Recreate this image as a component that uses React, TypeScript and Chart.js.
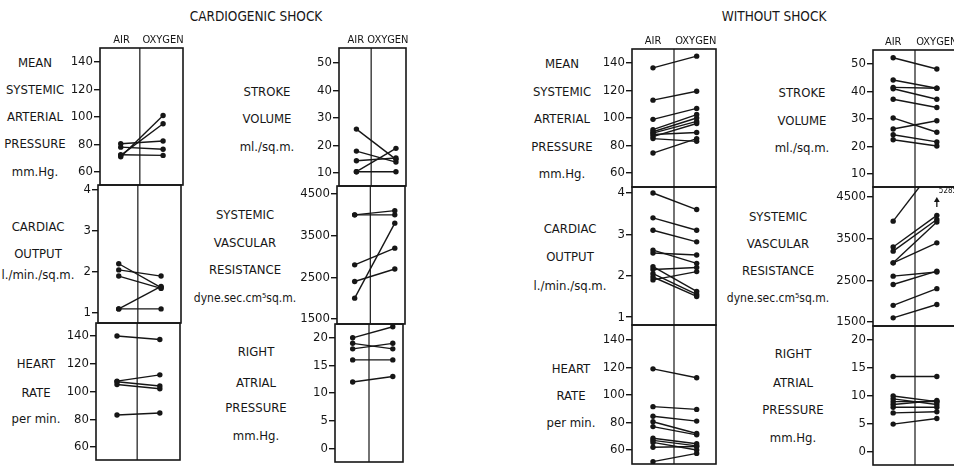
import React, { useEffect, useRef } from "react";
import { Chart, registerables } from "chart.js";
Chart.register(...registerables);

const FONT = "'Liberation Sans Narrow', 'DejaVu Sans Condensed', 'Arial Narrow', sans-serif";
const INK = "#161616";

// ---------- Tick values ----------
const TICKS_MAP = [60, 80, 100, 120, 140];
const TICKS_CO = [1, 2, 3, 4];
const TICKS_HR = [60, 80, 100, 120, 140];
const TICKS_SV = [10, 20, 30, 40, 50];
const TICKS_SVR = [1500, 2500, 3500, 4500];
const TICKS_RAP = [0, 5, 10, 15, 20];

const GROUP_LABELS = ["AIR", "OXYGEN"];

// ---------- Cardiogenic shock ----------
const CS_MAP_AIR = [80.5, 78, 72.5, 71, 72];
const CS_MAP_OXY = [82.5, 76.5, 72, 101, 95];
const CS_CO_AIR = [2.2, 2.05, 1.9, 1.1, 1.1];
const CS_CO_OXY = [1.62, 1.9, 1.6, 1.65, 1.1];
const CS_HR_AIR = [140, 107.5, 107, 105, 83];
const CS_HR_OXY = [137.5, 112, 104, 102, 84.5];
const CS_SV_AIR = [26, 18, 14.5, 10.5, 10.5];
const CS_SV_OXY = [15, 14, 15.5, 19, 10.5];
const CS_SVR_AIR = [4000, 4000, 2800, 2400, 2000];
const CS_SVR_OXY = [4100, 4000, 3200, 2700, 3800];
const CS_RAP_AIR = [20, 19, 18, 16, 12];
const CS_RAP_OXY = [22, 18, 19, 16, 13];

// ---------- Without shock ----------
const NS_MAP_AIR = [136.5, 113, 99, 91.5, 90, 89, 88, 86.5, 85, 74.5];
const NS_MAP_OXY = [145, 119.5, 107, 102.5, 100, 97.5, 89.5, 96, 83, 85];
const NS_CO_AIR = [4.0, 3.4, 3.1, 2.62, 2.55, 2.22, 2.15, 2.05, 1.97, 1.9];
const NS_CO_OXY = [3.6, 3.1, 2.82, 2.3, 2.5, 1.62, 2.2, 1.55, 1.5, 2.1];
const NS_HR_AIR = [119, 91.5, 84.5, 80.5, 77, 68.5, 67, 65.5, 62, 51.5];
const NS_HR_OXY = [112.5, 89.5, 81, 72, 71, 64.5, 63, 60, 62.5, 57.5];
const NS_SV_AIR = [52.3, 44.2, 41.5, 41, 37.2, 30.4, 26.4, 24.3, 22.5];
const NS_SV_OXY = [48.2, 41.2, 41.2, 37.2, 34.2, 25.2, 29.4, 21.7, 20.2];
const NS_SVR_AIR = [3920, 3300, 3200, 2920, 2920, 2600, 2400, 1900, 1600];
const NS_SVR_OXY = [5285, 4060, 3960, 3900, 3400, 2700, 2720, 2300, 1920];
const NS_SVR_OFFSCALE_LABEL = "5285";
const NS_RAP_AIR = [13.5, 10, 9.5, 9, 8.5, 8, 7, 5];
const NS_RAP_OXY = [13.5, 9, 8.5, 9, 9.2, 8, 7.2, 6];

// ---------- Layout ----------
const AXW = 44;
const PT = 20;
const PB = 12;
const PR = 4;

type PanelCfg = {
  box: [number, number, number, number];
  min: number;
  max: number;
  ticks: number[];
  air: number[];
  oxy: number[];
  airX: number;
  oxyX: number;
  midX: number;
  header?: [number, number];
  offscale?: { label: string; from: number; to: number; labelAt: number };
};

const PANELS: PanelCfg[] = [
  // Cardiogenic shock, column 1
  { box: [100, 48, 183, 185], min: 50.5, max: 150, ticks: TICKS_MAP, air: CS_MAP_AIR, oxy: CS_MAP_OXY, airX: 0.25, oxyX: 0.76, midX: 0.48, header: [0.26, 0.76] },
  { box: [98, 185, 181, 323], min: 0.756, max: 4.12, ticks: TICKS_CO, air: CS_CO_AIR, oxy: CS_CO_OXY, airX: 0.25, oxyX: 0.76, midX: 0.48 },
  { box: [96, 323, 180, 460], min: 50.6, max: 149.4, ticks: TICKS_HR, air: CS_HR_AIR, oxy: CS_HR_OXY, airX: 0.25, oxyX: 0.76, midX: 0.49 },
  // Cardiogenic shock, column 2
  { box: [339, 48, 406, 186], min: 5.3, max: 55.5, ticks: TICKS_SV, air: CS_SV_AIR, oxy: CS_SV_OXY, airX: 0.26, oxyX: 0.85, midX: 0.48, header: [0.25, 0.73] },
  { box: [337, 186, 405, 324], min: 1380, max: 4692, ticks: TICKS_SVR, air: CS_SVR_AIR, oxy: CS_SVR_OXY, airX: 0.26, oxyX: 0.85, midX: 0.49 },
  { box: [335, 324, 403, 462], min: -2.5, max: 22.5, ticks: TICKS_RAP, air: CS_RAP_AIR, oxy: CS_RAP_OXY, airX: 0.26, oxyX: 0.85, midX: 0.5 },
  // Without shock, column 1
  { box: [632, 49, 716, 187], min: 49.8, max: 150.2, ticks: TICKS_MAP, air: NS_MAP_AIR, oxy: NS_MAP_OXY, airX: 0.25, oxyX: 0.77, midX: 0.5, header: [0.25, 0.76] },
  { box: [632, 187, 716, 325], min: 0.81, max: 4.145, ticks: TICKS_CO, air: NS_CO_AIR, oxy: NS_CO_OXY, airX: 0.25, oxyX: 0.77, midX: 0.5 },
  { box: [632, 325, 716, 464], min: 49.8, max: 150.9, ticks: TICKS_HR, air: NS_HR_AIR, oxy: NS_HR_OXY, airX: 0.25, oxyX: 0.77, midX: 0.5 },
  // Without shock, column 2
  { box: [873, 50, 957, 187], min: 5.3, max: 55.1, ticks: TICKS_SV, air: NS_SV_AIR, oxy: NS_SV_OXY, airX: 0.24, oxyX: 0.76, midX: 0.5, header: [0.24, 0.76] },
  { box: [873, 187, 957, 326], min: 1404, max: 4740, ticks: TICKS_SVR, air: NS_SVR_AIR, oxy: NS_SVR_OXY, airX: 0.24, oxyX: 0.76, midX: 0.5, offscale: { label: NS_SVR_OFFSCALE_LABEL, from: 4260, to: 4420, labelAt: 4640 } },
  { box: [873, 326, 957, 465], min: -2.3, max: 22.5, ticks: TICKS_RAP, air: NS_RAP_AIR, oxy: NS_RAP_OXY, airX: 0.24, oxyX: 0.76, midX: 0.5 },
];

type LabelLine = [string, number];
type LabelBlock = { x: number; lines: LabelLine[] };

const LABELS: LabelBlock[] = [
  { x: 35, lines: [["MEAN", 62], ["SYSTEMIC", 89], ["ARTERIAL", 116], ["PRESSURE", 143], ["mm.Hg.", 171]] },
  { x: 38, lines: [["CARDIAC", 226], ["OUTPUT", 253], ["l./min./sq.m.", 274]] },
  { x: 36, lines: [["HEART", 363], ["RATE", 392], ["per min.", 418]] },
  { x: 267, lines: [["STROKE", 91], ["VOLUME", 118], ["ml./sq.m.", 146]] },
  { x: 245, lines: [["SYSTEMIC", 214], ["VASCULAR", 242], ["RESISTANCE", 269], ["dyne.sec.cm⁵sq.m.", 298]] },
  { x: 256, lines: [["RIGHT", 351], ["ATRIAL", 382], ["PRESSURE", 407], ["mm.Hg.", 435]] },
  { x: 562, lines: [["MEAN", 63], ["SYSTEMIC", 91], ["ARTERIAL", 118], ["PRESSURE", 146], ["mm.Hg.", 173]] },
  { x: 570, lines: [["CARDIAC", 228], ["OUTPUT", 256], ["l./min./sq.m.", 285]] },
  { x: 571, lines: [["HEART", 368], ["RATE", 395], ["per min.", 422]] },
  { x: 802, lines: [["STROKE", 92], ["VOLUME", 120], ["ml./sq.m.", 147]] },
  { x: 778, lines: [["SYSTEMIC", 216], ["VASCULAR", 243], ["RESISTANCE", 270], ["dyne.sec.cm⁵sq.m.", 298]] },
  { x: 793, lines: [["RIGHT", 353], ["ATRIAL", 382], ["PRESSURE", 409], ["mm.Hg.", 437]] },
];

const TITLES: LabelLine[] = [["CARDIOGENIC SHOCK", 256], ["WITHOUT SHOCK", 774]];

function Panel({ cfg }: { cfg: PanelCfg }) {
  const ref = useRef<HTMLCanvasElement | null>(null);
  const [l, t, r, b] = cfg.box;
  const w = AXW + (r - l) + PR;
  const h = PT + (b - t) + PB;

  useEffect(() => {
    if (!ref.current) return;
    const datasets: any[] = cfg.air.map((a, i) => ({
      data: [
        { x: cfg.airX, y: a },
        { x: cfg.oxyX, y: cfg.oxy[i] },
      ],
      showLine: true,
      borderColor: INK,
      borderWidth: 1.4,
      pointRadius: 2.7,
      pointBackgroundColor: INK,
      pointBorderWidth: 0,
    }));
    if (cfg.offscale) {
      datasets.push({
        data: [
          { x: cfg.oxyX, y: cfg.offscale.from },
          { x: cfg.oxyX, y: cfg.offscale.to },
        ],
        showLine: true,
        borderColor: INK,
        borderWidth: 1.3,
        pointRadius: [0, 3.4],
        pointStyle: "triangle",
        pointBackgroundColor: INK,
        pointBorderColor: INK,
        pointBorderWidth: 0,
      });
    }
    const boxPlugin = {
      id: "boxes",
      afterDatasetsDraw(chart: any) {
        const { ctx, chartArea } = chart;
        const xs = chart.scales.x;
        const ys = chart.scales.y;
        ctx.save();
        ctx.strokeStyle = INK;
        ctx.lineWidth = 1.6;
        ctx.strokeRect(chartArea.left, chartArea.top, chartArea.right - chartArea.left, chartArea.bottom - chartArea.top);
        const mx = xs.getPixelForValue(cfg.midX);
        ctx.lineWidth = 1.2;
        ctx.beginPath();
        ctx.moveTo(mx, chartArea.top);
        ctx.lineTo(mx, chartArea.bottom);
        ctx.stroke();
        ctx.fillStyle = INK;
        if (cfg.header) {
          ctx.font = `11px ${FONT}`;
          ctx.textAlign = "center";
          ctx.textBaseline = "bottom";
          ctx.fillText(GROUP_LABELS[0], xs.getPixelForValue(cfg.header[0]), chartArea.top - 2);
          ctx.fillText(GROUP_LABELS[1], xs.getPixelForValue(cfg.header[1]), chartArea.top - 2);
        }
        if (cfg.offscale) {
          ctx.font = `8px ${FONT}`;
          ctx.textAlign = "left";
          ctx.textBaseline = "middle";
          ctx.fillText(cfg.offscale.label, xs.getPixelForValue(cfg.oxyX) + 2, ys.getPixelForValue(cfg.offscale.labelAt));
        }
        ctx.restore();
      },
    };
    const chart = new Chart(ref.current, {
      type: "scatter",
      data: { datasets },
      options: {
        responsive: false,
        animation: false,
        devicePixelRatio: 1,
        events: [],
        layout: { padding: { left: 0, top: PT, right: PR, bottom: PB } },
        plugins: { legend: { display: false }, tooltip: { enabled: false } },
        scales: {
          x: { type: "linear", min: 0, max: 1, display: false },
          y: {
            type: "linear",
            position: "left",
            min: cfg.min,
            max: cfg.max,
            afterBuildTicks: (s: any) => {
              s.ticks = cfg.ticks.map((v) => ({ value: v }));
            },
            afterFit: (s: any) => {
              s.width = AXW;
            },
            ticks: {
              font: { family: FONT, size: 13 },
              color: INK,
              padding: 1,
              callback: (v: any) => String(v),
            },
            grid: { drawOnChartArea: false, drawTicks: true, tickLength: 6, color: INK, lineWidth: 1.4 },
            border: { display: false },
          },
        },
      } as any,
      plugins: [boxPlugin],
    });
    return () => chart.destroy();
  }, []);

  return (
    <canvas
      ref={ref}
      width={w}
      height={h}
      style={{ position: "absolute", left: l - AXW, top: t - PT, width: w, height: h }}
    />
  );
}

export default function App() {
  const textStyle: React.CSSProperties = {
    position: "absolute",
    transform: "translate(-50%, -50%)",
    whiteSpace: "nowrap",
    font: `13px ${FONT}`,
    color: INK,
    lineHeight: "1",
  };
  return (
    <div
      style={{
        position: "fixed",
        left: 0,
        top: 0,
        width: 954,
        height: 467,
        overflow: "hidden",
        background: "#ffffff",
      }}
    >
      {TITLES.map(([txt, x]) => (
        <div key={txt} style={{ ...textStyle, left: x, top: 17, fontSize: 13.5 }}>
          {txt}
        </div>
      ))}
      {LABELS.map((blk, bi) =>
        blk.lines.map(([txt, y], li) => (
          <div
            key={`${bi}-${li}`}
            style={{ ...textStyle, left: blk.x, top: y, fontSize: txt.startsWith("dyne") ? 12 : 13 }}
          >
            {txt}
          </div>
        ))
      )}
      {PANELS.map((p, i) => (
        <Panel key={i} cfg={p} />
      ))}
    </div>
  );
}
